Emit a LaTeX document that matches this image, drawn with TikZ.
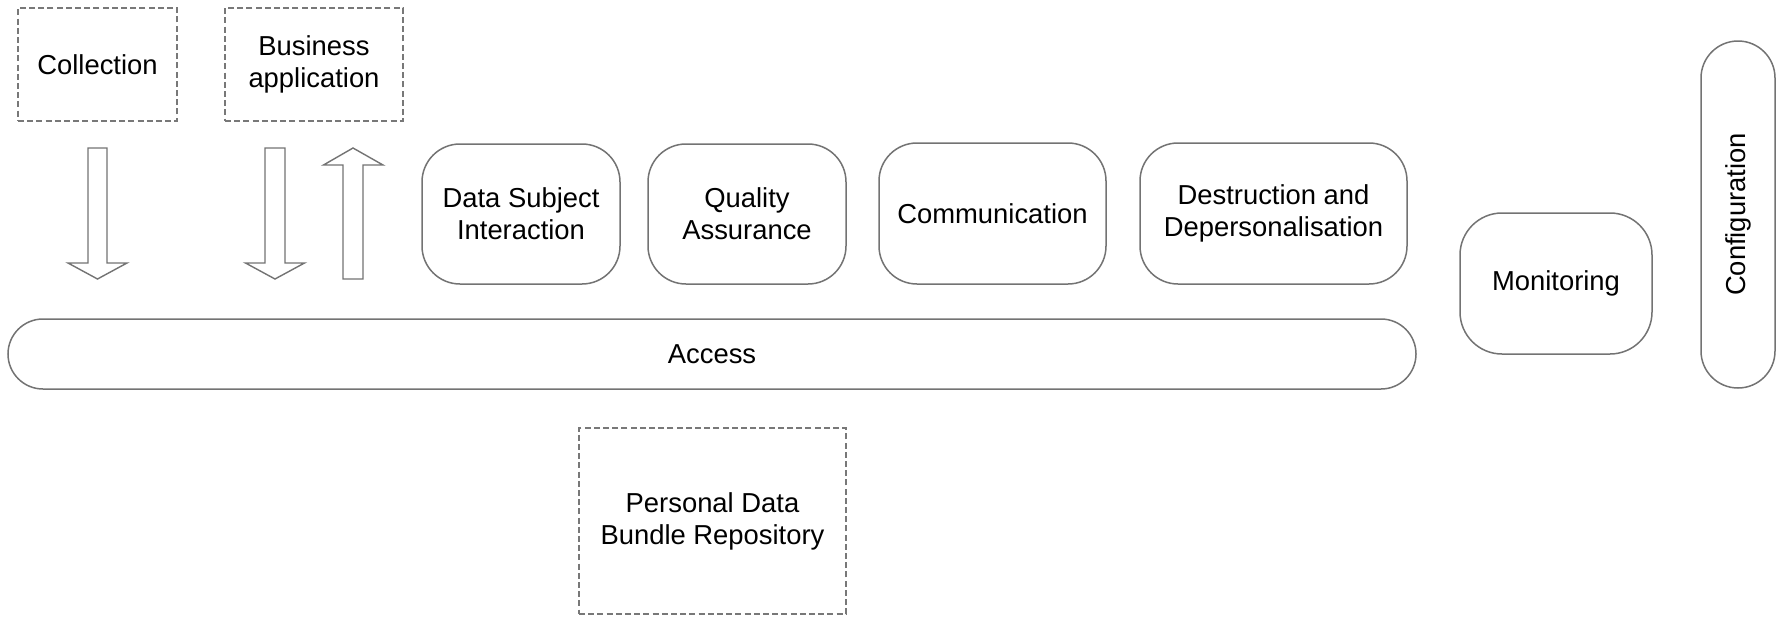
\documentclass[tikz,border=0pt]{standalone}
\usepackage{fontspec}
\setmainfont{Liberation Sans}
\definecolor{linegray}{RGB}{115,115,115}
\definecolor{dashgray}{RGB}{120,120,120}
\tikzset{
  lbl/.style={font=\fontsize{13.7}{16}\selectfont, text=black, align=center, inner sep=0pt},
  roundbox/.style={lbl, draw=linegray, line width=0.75pt, rounded corners=19pt},
  dashbox/.style={lbl, draw=dashgray, line width=0.7pt, dash pattern=on 3pt off 1.6pt},
  pill/.style={lbl, draw=linegray, line width=0.75pt},
  blockarrow/.style={draw=linegray, line width=0.7pt, fill=white, line join=miter}
}
\begin{document}
\begin{tikzpicture}[x=0.5pt,y=-0.5pt]
\useasboundingbox (0,0) rectangle (1778,616);
% dashed boxes
\node[dashbox, minimum width=79.5pt, minimum height=56.5pt] (coll) at (97.5,64.5) {Collection};
\node[dashbox, minimum width=89pt, minimum height=56.5pt] (bus) at (314,64.5) {Business\\application};
\node[dashbox, minimum width=133.5pt, minimum height=93pt] (pdb) at (712.5,521) {Personal Data\\Bundle Repository};
% rounded boxes
\node[roundbox, minimum width=99pt, minimum height=70pt] (dsi) at (521,214) {Data Subject\\Interaction};
\node[roundbox, minimum width=99pt, minimum height=70pt] (qa) at (747,214) {Quality\\Assurance};
\node[roundbox, minimum width=113.5pt, minimum height=70.5pt] (comm) at (992.5,213.5) {Communication};
\node[roundbox, minimum width=133.5pt, minimum height=70.5pt] (dest) at (1273.5,213.5) {Destruction and\\Depersonalisation};
\node[roundbox, minimum width=96pt, minimum height=70.5pt, rounded corners=21pt] (mon) at (1556,283.5) {Monitoring};
\node[pill, rounded corners=17.5pt, minimum width=704pt, minimum height=35pt] (acc) at (712,354) {Access};
\node[pill, rounded corners=18.5pt, minimum width=37pt, minimum height=173.5pt] (conf) at (1738,214.5) {\rotatebox{90}{Configuration}};
% block arrows
\draw[blockarrow] (88,148) -- (107,148) -- (107,263) -- (127,263) -- (97.5,279) -- (68,263) -- (88,263) -- cycle;
\draw[blockarrow] (265,148) -- (285,148) -- (285,263) -- (304.5,263) -- (275,279) -- (245.5,263) -- (265,263) -- cycle;
\draw[blockarrow] (343,279) -- (363,279) -- (363,165) -- (383,165) -- (353,148) -- (323.5,165) -- (343,165) -- cycle;
\end{tikzpicture}
\end{document}
